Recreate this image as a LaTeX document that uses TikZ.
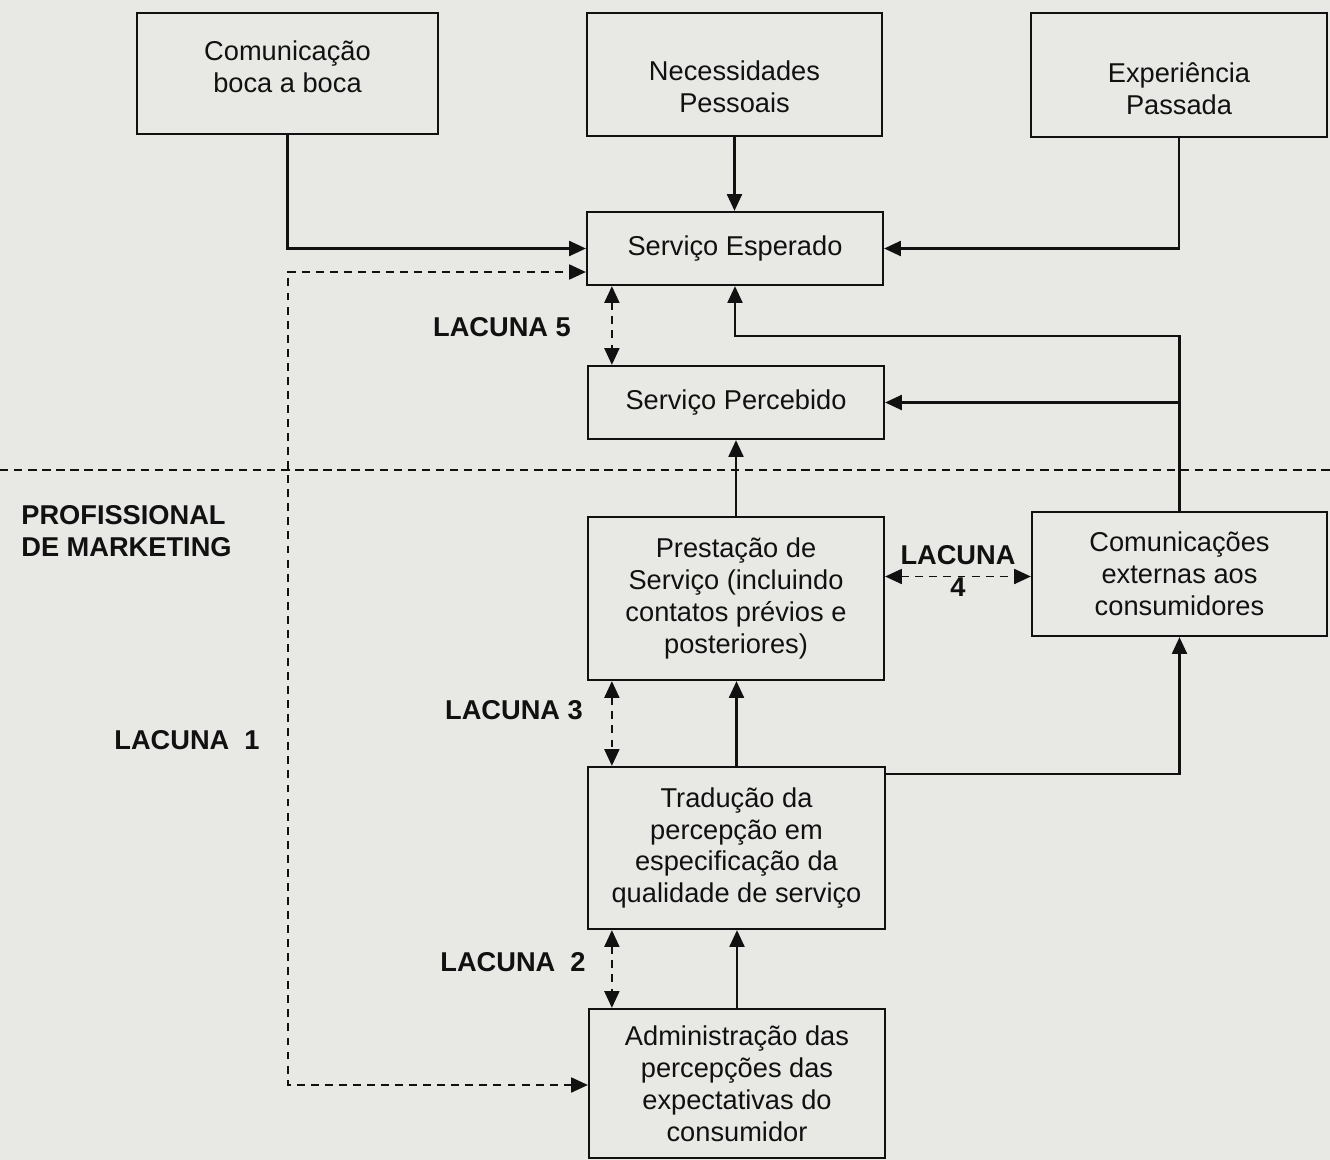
\documentclass[tikz,border=0pt]{standalone}
\usepackage{fontspec}
\setmainfont{Liberation Sans}
\usetikzlibrary{arrows.meta,calc}
\definecolor{bg}{RGB}{232,233,229}
\definecolor{ink}{RGB}{17,17,17}
\begin{document}
\begin{tikzpicture}[x=0.02cm,y=-0.02cm,
  box/.style={draw=ink, line width=1.3pt, inner sep=0pt, align=center, text=ink, font=\fontsize{15.5}{18.2}\selectfont},
  txt/.style={inner sep=0pt, align=center, text=ink, font=\fontsize{15.5}{18.2}\selectfont},
  lab/.style={text=ink, inner sep=0pt, font=\bfseries\fontsize{15.5}{18.4}\selectfont},
  tip/.style={Triangle[length=9.5pt,width=8.5pt]},
  arr/.style={draw=ink, line width=1.2pt, -{Triangle[length=9.5pt,width=8.5pt]}},
  darr/.style={draw=ink, line width=1.1pt, dash pattern=on 4.5pt off 3.5pt, {Triangle[length=9.5pt,width=8.5pt]}-{Triangle[length=9.5pt,width=8.5pt]}},
  sep/.style={draw=ink, line width=1pt, dash pattern=on 4.8pt off 3.2pt}]
\fill[bg] (0,0) rectangle (1330,1160);
\useasboundingbox (0,0) rectangle (1330,1160);

% boxes
\node[box, minimum width=6.02cm, minimum height=2.42cm] (com) at (287.5,73.5) {};
\node[txt] (comT) at (287.5,67) {Comunicação\\boca a boca};
\node[box, minimum width=5.90cm, minimum height=2.46cm] (nec) at (734.5,74.5) {};
\node[txt] (necT) at (734.5,87) {Necessidades\\Pessoais};
\node[box, minimum width=5.92cm, minimum height=2.48cm] (exp) at (1179,75) {};
\node[txt] (expT) at (1179,88.5) {Experiência\\Passada};
\node[box, minimum width=5.92cm, minimum height=1.46cm] (esp) at (735,248.5) {Serviço Esperado};
\node[box, minimum width=5.92cm, minimum height=1.46cm] (perc) at (736,402.5) {Serviço Percebido};
\node[box, minimum width=5.92cm, minimum height=3.26cm] (prest) at (736,598.5) {Prestação de\\Serviço (incluindo\\contatos prévios e\\posteriores)};
\node[box, minimum width=5.90cm, minimum height=2.48cm] (comext) at (1179.5,574) {Comunicações\\externas aos\\consumidores};
\node[box, minimum width=5.94cm, minimum height=3.24cm] (trad) at (736.5,848) {Tradução da\\percepção em\\especificação da\\qualidade de serviço};
\node[box, minimum width=5.92cm, minimum height=2.98cm] (adm) at (737,1083.5) {Administração das\\percepções das\\expectativas do\\consumidor};

% labels
\node[lab] (l5) at (502,327) {LACUNA 5};
\node[lab, align=left, anchor=west] (prof) at (21,531) {PROFISSIONAL\\DE MARKETING};
\node[lab, align=center] (l4) at (958,571) {LACUNA\\4};
\node[lab] (l3) at (514,710) {LACUNA 3};
\node[lab] (l1) at (187,740) {LACUNA\ \ 1};
\node[lab] (l2) at (513,962) {LACUNA\ \ 2};

% separator
\coordinate (s1) at (0,470);
\coordinate (s2) at (1330,470);
\draw[sep] (s1) -- (s2);

% solid connectors
\draw[arr] (com.south) |- (esp.west);
\draw[arr] (nec.south) -- (nec.south |- esp.north);
\draw[arr] (exp.south) |- (esp.east);
\coordinate (k2) at (735,336);
\draw[arr] (comext.north) |- (k2) -- (esp.south);
\draw[arr] (comext.north |- perc.east) -- (perc.east);
\draw[arr] (prest.north) -- (prest.north |- perc.south);
\draw[arr] (trad.north) -- (trad.north |- prest.south);
\draw[arr] (adm.north) -- (adm.north |- trad.south);
\draw[arr] ($(trad.north east)+(0,8)$) -| (comext.south);

% dashed gaps
\draw[darr] ($(esp.south west)+(26,0)$) coordinate (l5a) -- (l5a |- perc.north);
\draw[darr] ($(prest.south west)+(25,0)$) coordinate (l3a) -- (l3a |- trad.north);
\draw[darr] ($(trad.south west)+(25,0)$) coordinate (l2a) -- (l2a |- adm.north);
\draw[darr] ($(prest.east)+(0,-22)$) coordinate (l4a) -- (l4a -| comext.west);
\coordinate (l1b) at (288,1085);
\coordinate (l1t) at (288,272);
\draw[darr] (adm.west |- l1b) -- (l1b) -- (l1t) -- (esp.west |- l1t);
\end{tikzpicture}
\end{document}
